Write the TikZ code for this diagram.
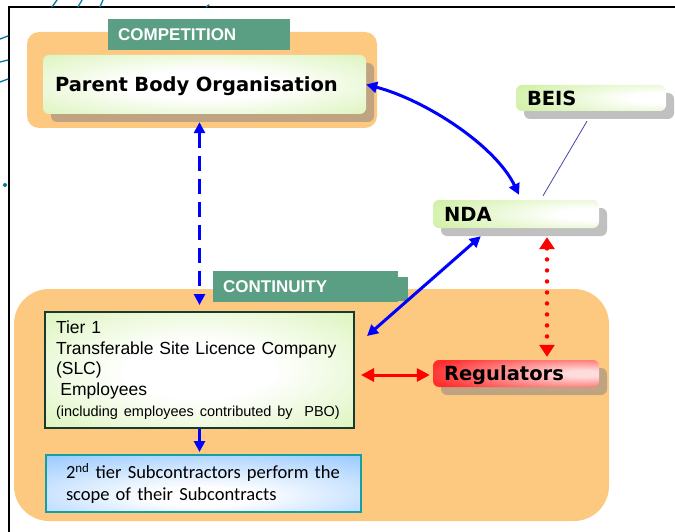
\documentclass[tikz,border=0pt]{standalone}
\usepackage{fontspec}
\setmainfont{Liberation Sans}
\newfontfamily\heavy{DejaVu Sans}
\newfontfamily\calib{Carlito}
\usetikzlibrary{arrows.meta,shadows,calc}
\definecolor{orng}{RGB}{253,201,129}
\definecolor{tabc}{RGB}{90,158,132}
\definecolor{gl}{RGB}{200,238,150}
\definecolor{shb}{RGB}{192,163,128}
\definecolor{shg}{RGB}{192,192,192}
\definecolor{bl}{RGB}{150,200,255}
\definecolor{rd}{RGB}{255,45,45}
\definecolor{pk}{RGB}{255,220,220}
\definecolor{tierc}{RGB}{22,60,50}
\definecolor{subc}{RGB}{20,160,160}
\definecolor{artc}{RGB}{0,120,160}
\definecolor{lnc}{RGB}{70,70,170}
\pgfdeclareradialshading{glowG}{\pgfpoint{0bp}{0bp}}{color(0bp)=(white); color(12bp)=(white); color(50bp)=(gl); color(100bp)=(gl)}
\pgfdeclareradialshading{glowGR}{\pgfpoint{25bp}{0bp}}{color(0bp)=(white); color(10bp)=(white); color(52bp)=(gl); color(120bp)=(gl)}
\pgfdeclareradialshading{glowB}{\pgfpoint{0bp}{-12bp}}{color(0bp)=(white); color(8bp)=(white); color(42bp)=(bl); color(120bp)=(bl)}
\pgfdeclareradialshading{glowR}{\pgfpoint{22bp}{0bp}}{color(0bp)=(pk); color(6bp)=(pk); color(42bp)=(rd); color(120bp)=(rd)}
\tikzset{
  tabbox/.style={fill=tabc, text=white, font=\bfseries\fontsize{17}{20}\selectfont,
    inner xsep=10pt, inner ysep=0pt, align=left, minimum height=31pt, anchor=north west},
  heavybox/.style={shade, rounded corners=6pt, align=left, inner ysep=0pt, text depth=0pt,
    font=\heavy\bfseries\fontsize{19.5}{22}\selectfont},
  shadowB/.style={drop shadow={shadow xshift=8pt, shadow yshift=-8pt, fill=shb, opacity=1}},
  shadowG/.style={drop shadow={shadow xshift=8pt, shadow yshift=-8pt, fill=shg, opacity=1}},
  bluearr/.style={draw=blue, line width=3pt, {Triangle[length=11pt,width=11pt]}-{Triangle[length=11pt,width=11pt]}},
  blueone/.style={draw=blue, line width=3pt, -{Triangle[length=11pt,width=11pt]}},
  redarr/.style={draw=red, line width=3pt, {Triangle[length=13pt,width=13pt]}-{Triangle[length=13pt,width=13pt]}},
  art/.style={draw=artc, line width=1.3pt, line cap=round}
}
\begin{document}
\begin{tikzpicture}[x=1pt,y=-1pt]
\useasboundingbox (0,0) rectangle (675,532);
% frame and stray strokes
\draw[line width=1.5pt] (9,532) -- (9,7) -- (675,7);
\draw[art] (52,7) -- (57,0);
\draw[art] (78,7) -- (82,0);
\draw[art] (100,7) -- (103,0);
\draw[art] (0,39) .. controls (4,38) .. (8,36);
\draw[art] (0,62) .. controls (4,61) .. (8,60);
\draw[art] (0,82) .. controls (4,81) .. (8,79);
\fill[artc] (5,185) circle (2pt);
\draw[art] (206,7) -- (209,5);
% competition group
\node[fill=orng, rounded corners=12pt, minimum width=350pt, minimum height=96pt, inner sep=0pt] (compbox) at (202,80) {};
\node[tabbox, text width=162pt] (comptab) at (108,19) {COMPETITION};
\node[heavybox, shadowB, shading=glowG, minimum height=59pt, inner xsep=12pt, text width=299pt] (pbo) at (204.5,84.5) {Parent Body Organisation};
% continuity group
\node[fill=orng, rounded corners=35pt, minimum width=595pt, minimum height=232pt, inner sep=0pt] (contbox) at (311.5,405) {};
\node[fill=tabc, minimum width=195pt, minimum height=24pt, inner sep=0pt, anchor=north west] (contstep) at (213,277) {};
\node[tabbox, text width=165pt] (conttab) at (213,271) {CONTINUITY};
\node[draw=tierc, line width=2pt, shade, shading=glowG, text width=287pt, inner xsep=11pt, inner ysep=0pt,
  minimum height=116pt, align=left, font=\fontsize{17.5}{20.8}\selectfont] (tier1) at (199.5,370)
  {Tier 1\\Transferable Site Licence Company\\(SLC)\\\hspace*{4.5pt}Employees\\{\fontsize{14.5}{20.8}\selectfont(including employees contributed by\ \ PBO)}};
\node[draw=subc, line width=2pt, shade, shading=glowB, text width=275pt, inner xsep=20pt, inner ysep=0pt,
  minimum height=57pt, align=left, font=\calib\fontsize{18.5}{21.5}\selectfont] (sub) at (203.5,483.5)
  {\mbox{2\textsuperscript{nd} tier Subcontractors perform the}\\\mbox{scope of their Subcontracts}};
% right side
\node[heavybox, shadowG, shading=glowGR, minimum height=26pt, inner xsep=11pt, text width=128pt] (beis) at (591,98) {BEIS};
\node[heavybox, shadowG, shading=glowGR, minimum height=28pt, inner xsep=11pt, text width=144pt] (nda) at (516,214) {NDA};
\node[heavybox, shadowB, shading=glowR, minimum height=27pt, inner xsep=11pt, text width=144pt] (regs) at (516,373.5) {Regulators};
% connectors
\draw[bluearr] (pbo.east) .. controls (425,100) and (495,145) .. ($(nda.north)+(3,-5)$);
\draw[bluearr, dash pattern=on 15pt off 8pt] ($(tier1.north |- pbo.south)+(0,8)$) -- ($(tier1.north)+(0,-6)$);
\draw[blueone] (tier1.south) -- ($(tier1.south |- sub.north)+(0,-2)$);
\draw[bluearr] ($(nda.south west)+(48,8)$) -- ($(tier1.east)+(12,-34)$);
\draw[redarr] ($(tier1.east)+(6,5)$) -- ($(regs.west)+(-3,1.5)$);
\draw[redarr, line width=4.5pt, dash pattern=on 0pt off 11pt, line cap=round,
  {Triangle[length=12pt,width=15pt]}-{Triangle[length=12pt,width=15pt]}] ($(nda.south)+(31,9)$) -- ($(regs.north)+(31,-3)$);
\draw[lnc, line width=0.8pt] ($(beis.south)+(-4,10)$) -- ($(nda.north)+(27,-4)$);
\end{tikzpicture}
\end{document}
